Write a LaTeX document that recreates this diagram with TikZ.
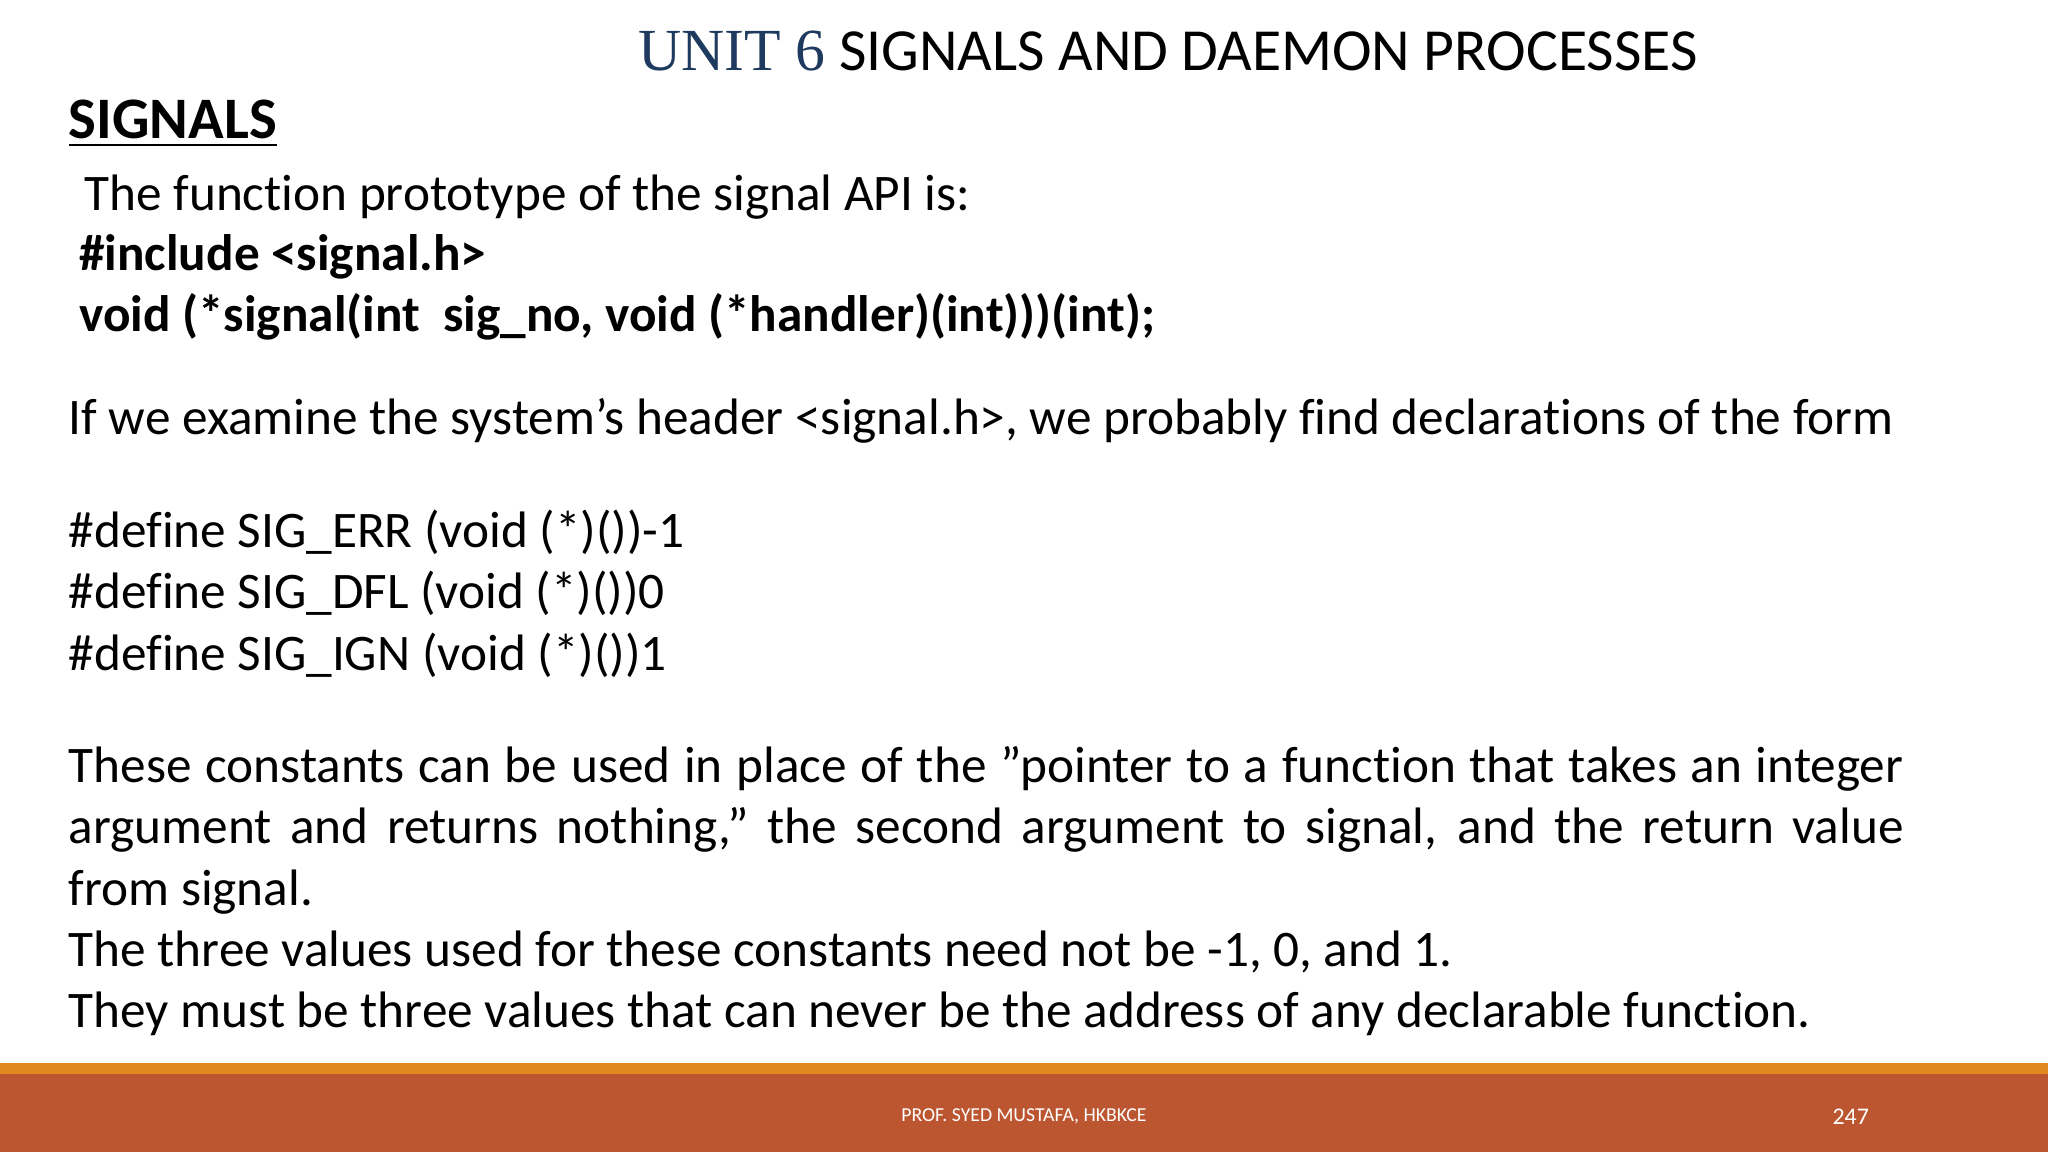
\documentclass[tikz,border=0pt]{standalone}
\usepackage{fontspec}
\setmainfont[Ligatures=NoCommon]{Carlito}
\newfontfamily\seriff{Liberation Serif}
\definecolor{rust}{HTML}{BC5630}
\definecolor{orng}{HTML}{E08A1E}
\definecolor{tblue}{HTML}{1F3A5F}
\newcommand{\sq}{\char"27\relax}
\newcommand{\dq}{\char"22\relax}
\begin{document}
\begin{tikzpicture}[x=0.01cm,y=-0.01cm,
  txt/.style={anchor=base west,inner sep=0pt,font=\fontsize{11.16pt}{13pt}\selectfont}]
\useasboundingbox (0,0) rectangle (1568,882);
\fill[white] (0,0) rectangle (1568,882);
\fill[orng] (0,814) rectangle (1568,822);
\fill[rust] (0,822) rectangle (1568,882);
\node[anchor=base west,inner sep=0pt] (title) at (488,54)
  {\fontsize{13pt}{15pt}\selectfont{\seriff\color{tblue}UNIT 6} SIGNALS AND DAEMON PROCESSES};
\node[anchor=base west,inner sep=0pt] (sig) at (52,106)
  {\fontsize{12.8pt}{15pt}\selectfont\bfseries\underline{SIGNALS}};
\node[txt] (l1) at (64,161) {The function prototype of the signal API is:};
\node[txt] (l2) at (60,207) {\bfseries \#include <signal.h>};
\node[txt] (l3) at (60,254) {\bfseries void (*signal(int\ \ sig\_no, void (*handler)(int)))(int);};
\node[txt] (l4) at (52,333) {If we examine the system\sq s header <signal.h>, we probably find declarations of the form};
\node[txt] (d1) at (52,419) {\#define SIG\_ERR (void (*)())-1};
\node[txt] (d2) at (52,466) {\#define SIG\_DFL (void (*)())0};
\node[txt] (d3) at (52,513) {\#define SIG\_IGN (void (*)())1};
\node[txt] (p1) at (52,599) {\makebox[14.04cm][s]{These constants can be used in place of the \dq pointer to a function that takes an integer}};
\node[txt] (p2) at (52,646) {\makebox[14.04cm][s]{argument and returns nothing,\dq\ the second argument to signal, and the return value}};
\node[txt] (p3) at (52,693) {from signal.};
\node[txt] (p4) at (52,740) {The three values used for these constants need not be -1, 0, and 1.};
\node[txt] (p5) at (52,787) {They must be three values that can never be the address of any declarable function.};
\node[anchor=center,inner sep=0pt,text=white,font=\fontsize{4.3pt}{5pt}\selectfont] (foot) at (784,855) {PROF. SYED MUSTAFA, HKBKCE};
\node[anchor=center,inner sep=0pt,text=white,font=\fontsize{5.2pt}{6pt}\selectfont] (pg) at (1417,855) {247};
\end{tikzpicture}
\end{document}
